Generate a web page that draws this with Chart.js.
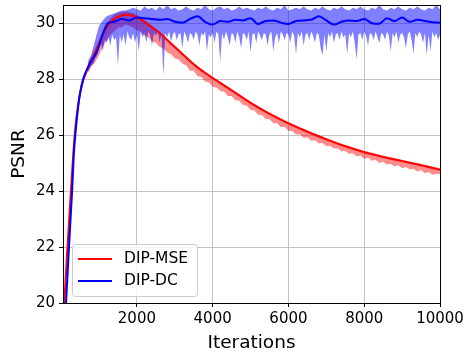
<!DOCTYPE html>
<html>
<head>
<meta charset="utf-8">
<script src="https://cdn.jsdelivr.net/npm/chart.js@4"></script>
<style>
  html, body { margin: 0; padding: 0; background: #fff; }
  #wrap { position: relative; width: 467px; height: 356px; }
</style>
</head>
<body>
<div id="wrap"><canvas id="psnrChart" width="467" height="356"></canvas></div>
<script>
// 平滑後曲線
const mseIters  = [50, 85, 150, 260, 320, 380, 450, 550, 650, 750, 850, 950, 1100, 1250, 1400, 1550, 1700, 1850, 2000,
  2200, 2400, 2600, 2800, 3000, 3200, 3400, 3600, 3800, 4000, 4500, 5000, 5500, 6000, 6500, 7000, 7500, 8000, 8500, 9000, 9500, 10000];
const mseSmooth = [19.0, 20.0, 21.6, 24.0, 25.3, 26.3, 27.1, 27.8, 28.2, 28.55, 28.8, 29.1, 29.6, 29.95, 30.15, 30.25, 30.3, 30.28, 30.2,
  30.05, 29.85, 29.65, 29.4, 29.15, 28.9, 28.65, 28.42, 28.22, 28.04, 27.6, 27.15, 26.76, 26.42, 26.12, 25.85, 25.6, 25.39, 25.22, 25.07, 24.92, 24.76];

const dcIters  = [50, 130, 200, 290, 340, 395, 450, 500, 580, 700, 800, 950, 1100, 1240, 1400, 1600, 1800, 2000,
  2200, 2400, 2600, 2800, 3000, 3200, 3400, 3600, 3800, 4000, 4200, 4400, 4600, 4800, 5000, 5200, 5400, 5600, 5800, 6000,
  6200, 6400, 6600, 6800, 7000, 7200, 7400, 7600, 7800, 8000, 8200, 8400, 8600, 8800, 9000, 9200, 9400, 9600, 9800, 10000];
const dcSmooth = [18.6, 20.0, 21.8, 24.0, 25.4, 26.3, 27.0, 27.5, 28.0, 28.4, 28.65, 29.0, 29.6, 30.0, 30.05, 30.15, 30.1, 30.2,
  30.18, 30.15, 30.12, 30.15, 30.05, 30.02, 30.15, 30.25, 30.05, 29.95, 30.08, 30.05, 30.12, 30.1, 30.18, 29.97, 30.08, 30.1, 30.02, 29.97,
  30.08, 30.1, 30.12, 30.25, 30.1, 29.95, 30.05, 30.1, 30.08, 30.15, 30.0, 29.98, 30.18, 30.08, 30.2, 30.05, 30.12, 30.08, 30.03, 30.02];

// 原始曲線的上下包絡（從第 700 次迭代開始）
const rawStart = 700;

const mseRawStep = 100;
const mseRawHigh = [
  28.5, 28.8, 29.1,
  29.4, 29.75, 30.0, 30.18, 30.3, 30.36, 30.4, 30.42, 30.4, 30.36,
  30.3, 30.22, 30.12, 30.02, 29.92, 29.81, 29.7, 29.58, 29.45, 29.33,
  29.2, 29.07, 28.95, 28.82, 28.7, 28.58, 28.47, 28.37, 28.27, 28.18,
  28.09, 28.0, 27.91, 27.82, 27.73, 27.64, 27.55, 27.46, 27.37, 27.28,
  27.19, 27.11, 27.03, 26.95, 26.88, 26.81, 26.74, 26.67, 26.6, 26.53,
  26.47, 26.41, 26.35, 26.29, 26.23, 26.17, 26.11, 26.06, 26.0, 25.95,
  25.9, 25.85, 25.8, 25.75, 25.7, 25.65, 25.61, 25.57, 25.52, 25.48,
  25.44, 25.41, 25.37, 25.34, 25.3, 25.27, 25.24, 25.21, 25.18, 25.15,
  25.12, 25.09, 25.06, 25.03, 25.0, 24.97, 24.94, 24.91, 24.88, 24.85,
  24.82];
const mseRawLow = [
  28.2, 28.45, 28.6,
  28.85, 29.15, 29.4, 29.6, 29.7, 29.85, 29.85, 29.95, 29.9, 29.85,
  29.75, 29.7, 29.55, 29.5, 29.35, 29.3, 29.15, 29.1, 28.95, 28.9,
  28.75, 28.7, 28.55, 28.5, 28.3, 28.3, 28.1, 28.08, 27.92, 27.88,
  27.72, 27.7, 27.58, 27.55, 27.4, 27.4, 27.25, 27.23, 27.08, 27.05,
  26.9, 26.88, 26.73, 26.72, 26.57, 26.57, 26.42, 26.42, 26.28, 26.3,
  26.15, 26.15, 26.02, 26.03, 25.9, 25.92, 25.8, 25.82, 25.7, 25.72,
  25.6, 25.62, 25.52, 25.52, 25.42, 25.43, 25.33, 25.35, 25.24, 25.27,
  25.15, 25.2, 25.08, 25.12, 25.0, 25.05, 24.95, 24.98, 24.88, 24.92,
  24.82, 24.86, 24.78, 24.8, 24.7, 24.74, 24.64, 24.68, 24.58, 24.62,
  24.6];

const dcRawHighStep = 100;
const dcRawHigh = [
  28.6, 28.9, 29.4,
  29.9, 30.1, 30.25, 30.3, 30.35, 30.4, 30.45, 30.45, 30.5, 30.55,
  30.5, 30.45, 30.6, 30.5, 30.55, 30.45, 30.6, 30.5, 30.65, 30.5,
  30.55, 30.45, 30.5, 30.6, 30.5, 30.45, 30.55, 30.5, 30.65, 30.5,
  30.45, 30.55, 30.6, 30.5, 30.55, 30.45, 30.5, 30.6, 30.5, 30.55,
  30.5, 30.45, 30.55, 30.5, 30.6, 30.5, 30.45, 30.55, 30.5, 30.65,
  30.45, 30.5, 30.55, 30.5, 30.6, 30.5, 30.45, 30.55, 30.5, 30.6,
  30.5, 30.45, 30.55, 30.5, 30.6, 30.5, 30.45, 30.55, 30.5, 30.6,
  30.5, 30.45, 30.55, 30.5, 30.65, 30.5, 30.45, 30.55, 30.5, 30.6,
  30.5, 30.45, 30.55, 30.5, 30.6, 30.5, 30.45, 30.55, 30.5, 30.65,
  30.5];

const dcRawLowStep = 50;
const dcRawLow = [
  28.25, 28.4, 28.5, 28.55, 28.75, 28.85,
  29.1, 29.3, 29.0, 29.4, 29.3, 29.5, 29.2, 29.6, 29.4, 29.5,
  28.5, 29.6, 29.3, 29.6, 29.2, 29.7, 29.5, 29.4, 29.65, 29.3,
  29.6, 29.0, 29.7, 29.5, 29.65, 29.3, 29.7, 29.6, 29.2, 29.65,
  29.55, 29.7, 29.3, 29.6, 28.1, 29.65, 29.5, 29.7, 29.35, 29.6,
  29.7, 29.4, 29.6, 29.65, 29.1, 29.7, 29.55, 29.3, 29.65, 29.6,
  29.4, 29.7, 29.6, 29.2, 29.65, 29.55, 29.7, 29.0, 29.6, 29.5,
  29.65, 29.3, 29.7, 29.6, 28.6, 29.65, 29.4, 29.7, 29.5, 29.2,
  29.65, 29.6, 29.3, 29.7, 29.5, 29.1, 29.65, 29.6, 29.4, 29.7,
  28.95, 29.6, 29.65, 29.3, 29.7, 29.55, 29.4, 29.65, 29.6, 29.2,
  29.6, 29.7, 29.0, 29.5, 29.65, 29.3, 29.7, 29.6, 29.4, 29.65,
  29.6, 29.3, 29.7, 29.55, 28.9, 29.65, 29.5, 29.7, 29.2, 29.6,
  29.65, 29.4, 29.7, 29.55, 29.3, 29.65, 29.6, 29.1, 28.85, 29.6,
  29.0, 29.65, 29.5, 29.7, 29.3, 29.6, 29.65, 29.4, 29.7, 29.5,
  29.6, 28.9, 29.65, 29.5, 29.7, 29.3, 28.7, 29.6, 29.65, 29.4,
  29.7, 29.55, 29.2, 29.65, 29.6, 29.4, 29.7, 29.5, 29.3, 29.65,
  29.6, 29.4, 29.7, 29.55, 29.0, 29.65, 29.5, 29.7, 29.3, 29.6,
  29.65, 29.5, 29.1, 29.6, 29.7, 29.4, 28.9, 29.65, 29.5, 29.7,
  29.6, 29.3, 29.65, 28.85, 29.6, 29.0, 29.7, 29.5, 29.65, 29.4,
  29.6];

const xTicks = [2000, 4000, 6000, 8000, 10000];
const yTicks = [20, 22, 24, 26, 28, 30];

const FONT = 'DejaVu Sans';

const toPoints = (xs, ys) => ys.map((y, i) => ({ x: xs[i], y: y }));
const stepPoints = (step, ys) => ys.map((y, i) => ({ x: rawStart + step * i, y: y }));

// 畫外框（上、右邊）
const framePlugin = {
  id: 'frame',
  afterDatasetsDraw(chart) {
    const { ctx, chartArea: a } = chart;
    ctx.save();
    ctx.strokeStyle = '#000';
    ctx.lineWidth = 1;
    ctx.strokeRect(Math.round(a.left) + 0.5, Math.round(a.top) + 0.5,
      Math.round(a.right - a.left), Math.round(a.bottom - a.top));
    ctx.restore();
  }
};

// 圖例放在左下角
const legendPlugin = {
  id: 'innerLegend',
  afterDraw(chart) {
    const { ctx } = chart;
    const items = chart.data.datasets.filter(d => d.showInLegend);
    const x = 72, y = 244, w = 125, h = 52;
    ctx.save();
    ctx.fillStyle = 'rgba(255,255,255,0.8)';
    ctx.strokeStyle = '#cccccc';
    ctx.lineWidth = 1;
    ctx.beginPath();
    ctx.roundRect(x + 0.5, y + 0.5, w, h, 3);
    ctx.fill();
    ctx.stroke();
    ctx.font = '15.5px ' + FONT;
    ctx.textBaseline = 'middle';
    items.forEach((d, i) => {
      const cy = y + 15 + i * 22;
      ctx.strokeStyle = d.borderColor;
      ctx.lineWidth = 2;
      ctx.beginPath();
      ctx.moveTo(x + 6, cy);
      ctx.lineTo(x + 40, cy);
      ctx.stroke();
      ctx.fillStyle = '#000';
      ctx.fillText(d.label, x + 52, cy);
    });
    ctx.restore();
  }
};

new Chart(document.getElementById('psnrChart'), {
  type: 'line',
  data: {
    datasets: [
      {
        label: 'DIP-MSE raw high',
        data: stepPoints(mseRawStep, mseRawHigh),
        borderWidth: 0,
        borderColor: 'rgba(0,0,0,0)',
        fill: false,
        order: 6,
      },
      {
        label: 'DIP-MSE raw low',
        data: stepPoints(mseRawStep, mseRawLow),
        borderWidth: 0,
        borderColor: 'rgba(0,0,0,0)',
        backgroundColor: 'rgba(255,0,0,0.45)',
        fill: '-1',
        order: 5,
      },
      {
        label: 'DIP-DC raw high',
        data: stepPoints(dcRawHighStep, dcRawHigh),
        borderWidth: 0,
        borderColor: 'rgba(0,0,0,0)',
        fill: false,
        order: 4,
      },
      {
        label: 'DIP-DC raw low',
        data: stepPoints(dcRawLowStep, dcRawLow),
        borderWidth: 0,
        borderColor: 'rgba(0,0,0,0)',
        backgroundColor: 'rgba(0,0,255,0.5)',
        fill: '-1',
        order: 3,
      },
      {
        label: 'DIP-MSE',
        data: toPoints(mseIters, mseSmooth),
        borderColor: '#ff0000',
        borderWidth: 2,
        cubicInterpolationMode: 'monotone',
        showInLegend: true,
        order: 2,
      },
      {
        label: 'DIP-DC',
        data: toPoints(dcIters, dcSmooth),
        borderColor: '#0000ff',
        borderWidth: 2,
        cubicInterpolationMode: 'monotone',
        showInLegend: true,
        order: 1,
      },
    ]
  },
  options: {
    responsive: false,
    animation: false,
    devicePixelRatio: 1,
    elements: { point: { radius: 0 }, line: { tension: 0 } },
    layout: { padding: { top: 5, right: 27, left: 0, bottom: 0 } },
    plugins: {
      legend: { display: false },
      tooltip: { enabled: false },
    },
    scales: {
      x: {
        type: 'linear',
        min: 50,
        max: 10000,
        afterBuildTicks: s => { s.ticks = xTicks.map(v => ({ value: v })); },
        afterFit: s => { s.height = 53; s.paddingLeft = 0; s.paddingRight = 0; },
        grid: { color: 'rgba(176,176,176,0.75)', tickColor: '#000', tickLength: 4 },
        border: { color: '#000', width: 1 },
        ticks: { color: '#000', font: { family: FONT, size: 15 }, padding: 3, maxRotation: 0, callback: v => String(v) },
        title: { display: true, text: 'Iterations', color: '#000', font: { family: FONT, size: 18.5 }, padding: { top: 0, bottom: 2 } },
      },
      y: {
        min: 20,
        max: 30.65,
        afterBuildTicks: s => { s.ticks = yTicks.map(v => ({ value: v })); },
        afterFit: s => { s.width = 63; s.paddingTop = 0; s.paddingBottom = 0; },
        grid: { color: 'rgba(176,176,176,0.75)', tickColor: '#000', tickLength: 4 },
        border: { color: '#000', width: 1 },
        ticks: { color: '#000', font: { family: FONT, size: 15 }, padding: 4, callback: v => String(v) },
        title: { display: true, text: 'PSNR', color: '#000', font: { family: FONT, size: 18.5 }, padding: { top: 8, bottom: 0 } },
      },
    },
  },
  plugins: [framePlugin, legendPlugin],
});
</script>
</body>
</html>
